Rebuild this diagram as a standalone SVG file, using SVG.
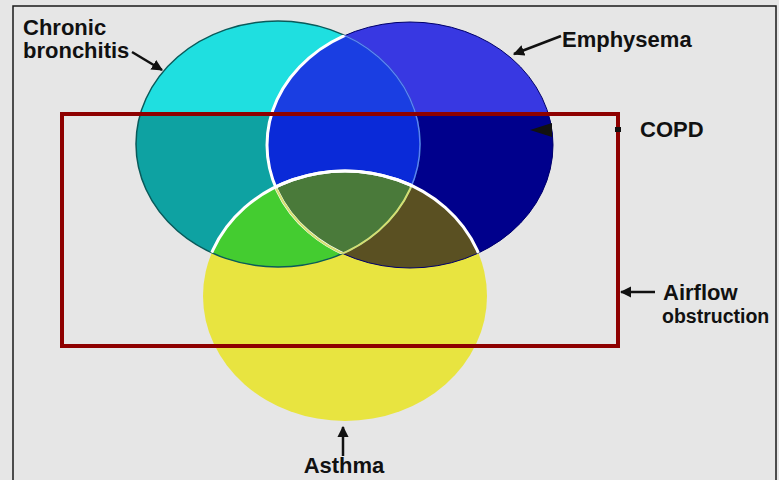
<svg xmlns="http://www.w3.org/2000/svg" width="779" height="480" viewBox="0 0 779 480">
  <style>
    .lbl { font-family: "Liberation Sans", Arial, sans-serif; font-weight: bold; font-size: 22px; fill: #111; }
    .arr { stroke: #111; stroke-width: 2.5; fill: none; marker-end: url(#ah); }
  </style>
  <defs>
    <marker id="ah" viewBox="0 0 10 10" refX="9" refY="5" markerWidth="4.5" markerHeight="4.5" orient="auto" markerUnits="strokeWidth">
      <path d="M0,0 L10,5 L0,10 Z" fill="#111"/>
    </marker>
    <clipPath id="cC"><ellipse cx="278" cy="144" rx="142" ry="123"/></clipPath>
    <clipPath id="cB"><ellipse cx="410" cy="145" rx="143" ry="123"/></clipPath>
    <clipPath id="cY"><ellipse cx="345" cy="296" rx="142" ry="125"/></clipPath>
    <clipPath id="cR"><rect x="62" y="114" width="556" height="232"/></clipPath>
  </defs>

  <rect x="0" y="0" width="779" height="480" fill="#e6e6e6"/>
  <rect x="13" y="6" width="763" height="490" fill="none" stroke="#1a1a1a" stroke-width="1.5"/>

  <g id="chronic-bronchitis">
    <ellipse cx="278" cy="144" rx="142" ry="123" fill="#1fdfe0"/>
    <ellipse cx="278" cy="144" rx="142" ry="123" fill="#0ea2a2" clip-path="url(#cR)"/>
  </g>

  <g id="emphysema">
    <ellipse cx="410" cy="145" rx="143" ry="123" fill="#3838e2"/>
    <ellipse cx="410" cy="145" rx="143" ry="123" fill="#00008c" clip-path="url(#cR)"/>
    <g clip-path="url(#cC)">
      <ellipse cx="410" cy="145" rx="143" ry="123" fill="#1a3ee2"/>
      <ellipse cx="410" cy="145" rx="143" ry="123" fill="#0a2ad8" clip-path="url(#cR)"/>
    </g>
  </g>

  <g id="asthma">
    <ellipse cx="345" cy="296" rx="142" ry="125" fill="#e8e440"/>
    <g clip-path="url(#cY)">
      <ellipse cx="278" cy="144" rx="142" ry="123" fill="#44cc30"/>
      <ellipse cx="410" cy="145" rx="143" ry="123" fill="#5a5022"/>
      <g clip-path="url(#cC)">
        <ellipse cx="410" cy="145" rx="143" ry="123" fill="#4a7a3a"/>
      </g>
    </g>
  </g>

  <g id="outlines" fill="none">
    <ellipse cx="278" cy="144" rx="142" ry="123" stroke="#0a5a5a" stroke-width="1.5"/>
    <ellipse cx="410" cy="145" rx="143" ry="123" stroke="#00006a" stroke-width="1"/>
    <ellipse cx="410" cy="145" rx="143" ry="123" stroke="#ffffff" stroke-width="3" clip-path="url(#cC)"/>
    <ellipse cx="278" cy="144" rx="142" ry="123" stroke="#5a7cff" stroke-width="1.5" clip-path="url(#cB)"/>
    <g clip-path="url(#cY)">
      <ellipse cx="278" cy="144" rx="142" ry="123" stroke="#d4e070" stroke-width="2" clip-path="url(#cB)"/>
      <ellipse cx="410" cy="145" rx="143" ry="123" stroke="#d4e070" stroke-width="2" clip-path="url(#cC)"/>
    </g>
    <ellipse cx="345" cy="296" rx="142" ry="125" stroke="#ffffff" stroke-width="3" clip-path="url(#cC)"/>
    <ellipse cx="345" cy="296" rx="142" ry="125" stroke="#ffffff" stroke-width="3" clip-path="url(#cB)"/>
  </g>

  <g id="copd-box">
    <rect x="62" y="114" width="556" height="232" fill="none" stroke="#8e0000" stroke-width="4"/>
  </g>

  <g id="connectors">
    <line class="arr" x1="132" y1="52" x2="162" y2="70"/>
    <line class="arr" x1="561" y1="36" x2="514" y2="54"/>
    <line class="arr" x1="655" y1="292" x2="621" y2="292"/>
    <line class="arr" x1="343" y1="456" x2="343" y2="427"/>
    <polygon points="530,130 552,123 552,137" fill="#111"/>
    <rect x="615" y="127" width="6" height="5" fill="#111"/>
  </g>

  <g id="labels">
    <text class="lbl" x="23" y="35">Chronic</text>
    <text class="lbl" x="23" y="58">bronchitis</text>
    <text class="lbl" x="562" y="47">Emphysema</text>
    <text class="lbl" x="640" y="137">COPD</text>
    <text class="lbl" x="663" y="300">Airflow</text>
    <text class="lbl" x="662" y="323" style="font-size:19.5px">obstruction</text>
    <text class="lbl" x="344" y="473" text-anchor="middle">Asthma</text>
  </g>
</svg>
